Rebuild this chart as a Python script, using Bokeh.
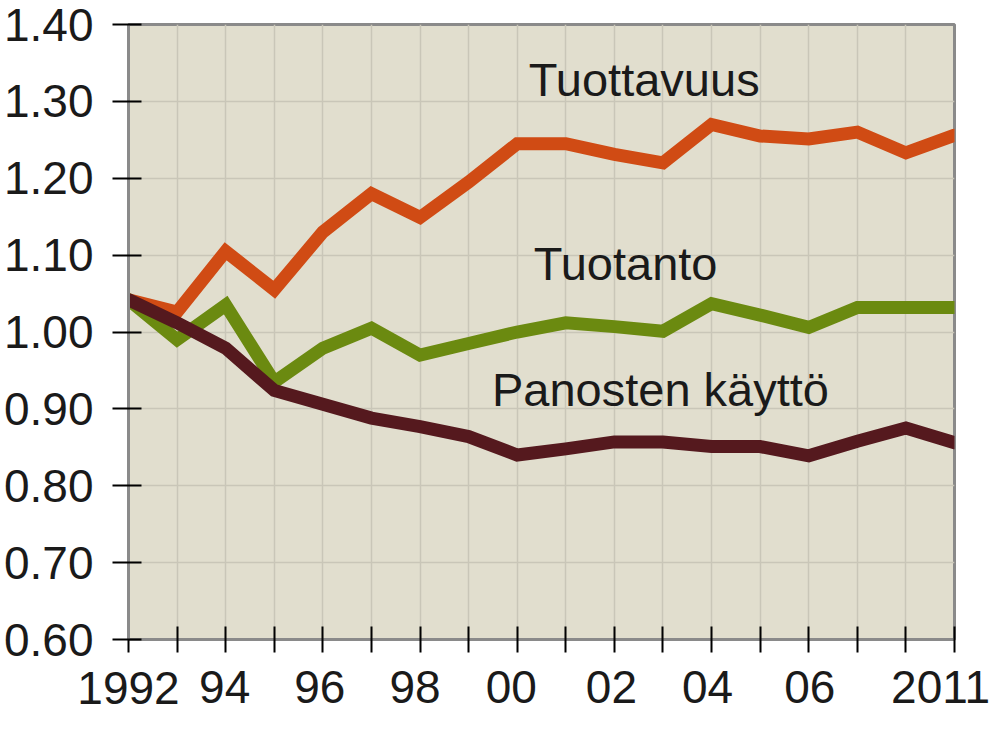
from bokeh.plotting import figure
from bokeh.models import Range1d, FixedTicker, LinearAxis
from bokeh.core.properties import value
from bokeh.embed import file_html
from bokeh.resources import INLINE

# ---- data ----
n_points = 18
x_idx = list(range(n_points))
tuottavuus = [1.042, 1.026, 1.105, 1.055, 1.130, 1.180, 1.149, 1.195, 1.245, 1.245,
              1.231, 1.220, 1.270, 1.255, 1.251, 1.260, 1.233, 1.256]
tuotanto = [1.042, 0.990, 1.035, 0.935, 0.979, 1.005, 0.970, 0.985, 1.000, 1.012,
            1.007, 1.001, 1.037, 1.022, 1.006, 1.032, 1.032, 1.032]
panosten = [1.042, 1.012, 0.979, 0.924, 0.906, 0.888, 0.877, 0.864, 0.840, 0.848,
            0.857, 0.857, 0.851, 0.851, 0.839, 0.858, 0.875, 0.856]
y_ticks = [0.60, 0.70, 0.80, 0.90, 1.00, 1.10, 1.20, 1.30, 1.40]
y_tick_labels = ["0.60", "0.70", "0.80", "0.90", "1.00", "1.10", "1.20", "1.30", "1.40"]
x_label_pos = [0, 2, 4, 6, 8, 10, 12, 14, 17]
x_labels = ["1992", "94", "96", "98", "00", "02", "04", "06", "2011"]

series_names = ["Tuottavuus", "Tuotanto", "Panosten käyttö"]

# ---- layout / style (not data) ----
x_label_nudge = [0, -1, -3, -5, -6, -3, -4, 1, -14]   # px, label centre vs tick
series_label_x = [8.24, 8.34, 7.48]
series_label_y = [1.328, 1.0895, 0.9256]               # vertical centre of text

C_ORANGE = "#D04B14"
C_GREEN = "#6B8A10"
C_DARK = "#55191E"
C_BG = "#E1DECE"
C_GRID = "#C9C6B8"
C_AXIS = "#8A8A8A"
C_TEXT = "#1A1A1A"
FONT = "Liberation Sans"
XLAB_PX = 46
LAB_STANDOFF = 19
LAB_H = 36          # height bokeh reserves for one row of year labels

W, H = 991, 715
LEFT, TOP, FRAME_W, FRAME_H = 127, 24, 827, 615
RIGHT = W - LEFT - FRAME_W
BOTTOM = H - TOP - FRAME_H
X0, X1 = 0, n_points - 1

p = figure(width=W, height=H, output_backend="svg", toolbar_location=None,
           x_range=Range1d(X0, X1), y_range=Range1d(0.60, 1.40),
           min_border_left=LEFT, min_border_right=RIGHT, min_border_top=TOP,
           min_border_bottom=BOTTOM)
p.background_fill_color = C_BG
p.border_fill_color = "white"
p.outline_line_color = C_AXIS
p.outline_line_width = 3

p.xgrid.ticker = FixedTicker(ticks=x_idx)
p.ygrid.ticker = FixedTicker(ticks=y_ticks)
for g in (p.xgrid[0], p.ygrid[0]):
    g.grid_line_color = C_GRID
    g.grid_line_width = 1.5

ya = p.yaxis[0]
ya.ticker = FixedTicker(ticks=y_ticks)
ya.major_label_overrides = {t: l for t, l in zip(y_ticks, y_tick_labels)}
ya.major_label_text_font = FONT
ya.major_label_text_font_size = "46px"
ya.major_label_text_color = C_TEXT
ya.major_label_standoff = 19
ya.major_tick_in = 13
ya.major_tick_out = 16
ya.major_tick_line_color = "black"
ya.major_tick_line_width = 2
ya.minor_tick_line_color = None
ya.axis_line_color = C_AXIS
ya.axis_line_width = 3

# x axis: yearly ticks, carrying the first year label
xa = p.xaxis[0]
xa.ticker = FixedTicker(ticks=x_idx)
xa.major_label_overrides = {i: (x_labels[0] if i == x_label_pos[0] else "") for i in x_idx}
xa.major_label_text_font = FONT
xa.major_label_text_font_size = f"{XLAB_PX}px"
xa.major_label_text_color = C_TEXT
xa.major_label_standoff = LAB_STANDOFF
xa.major_tick_in = 13
xa.major_tick_out = 13
xa.major_tick_line_color = "black"
xa.major_tick_line_width = 2
xa.minor_tick_line_color = None
xa.axis_line_color = C_AXIS
xa.axis_line_width = 3

# remaining year labels, each nudged a few pixels as in the original,
# drawn on the same row as the first label
unit = FRAME_W / (X1 - X0)
lab_ticks = [round(pos + d / unit, 4) for pos, d in zip(x_label_pos[1:], x_label_nudge[1:])]
xb = LinearAxis(ticker=FixedTicker(ticks=lab_ticks),
                major_label_overrides=dict(zip(lab_ticks, x_labels[1:])),
                axis_line_color=None, major_tick_line_color=None,
                minor_tick_line_color=None, major_tick_in=0, major_tick_out=0,
                major_label_standoff=-LAB_H, major_label_text_font=FONT,
                major_label_text_font_size=f"{XLAB_PX}px",
                major_label_text_color=C_TEXT)
p.add_layout(xb, "below")

for ys, col in ((tuottavuus, C_ORANGE), (tuotanto, C_GREEN), (panosten, C_DARK)):
    p.line(x_idx, ys, line_color=col, line_width=13, line_cap="round",
           line_join="miter")

for name, lx, ly in zip(series_names, series_label_x, series_label_y):
    p.text(x=[lx], y=[ly], text=[name], text_font=value(FONT),
           text_font_size="47px", text_color=C_TEXT, text_align="left",
           text_baseline="alphabetic")

open("out.html", "w").write(file_html(p, INLINE))
